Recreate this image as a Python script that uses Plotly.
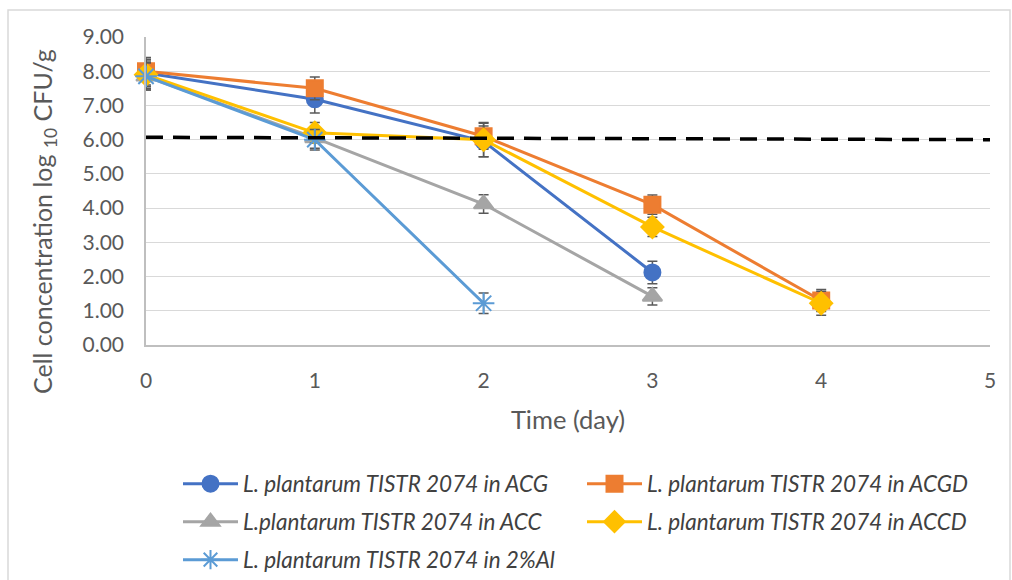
import plotly.graph_objects as go

days = [0, 1, 2, 3, 4]
acg = [7.95, 7.18, 5.95, 2.12]
acg_err = [0.40, 0.40, 0.45, 0.33]
acgd = [8.00, 7.50, 6.10, 4.10, 1.30]
acgd_err = [0.40, 0.33, 0.38, 0.28, 0.32]
acc = [7.85, 6.05, 4.12, 1.42]
acc_err = [0.40, 0.30, 0.27, 0.25]
accd = [7.90, 6.20, 6.00, 3.45, 1.22]
accd_err = [0.40, 0.30, 0.50, 0.28, 0.35]
al = [7.85, 6.00, 1.22]
al_err = [0.40, 0.30, 0.30]
threshold_x = [0, 5]
threshold_y = [6.07, 6.00]

names = [
    "L. plantarum TISTR 2074 in ACG",
    "L. plantarum TISTR 2074 in ACGD",
    "L.plantarum TISTR 2074 in ACC",
    "L. plantarum TISTR 2074 in ACCD",
    "L. plantarum TISTR 2074 in 2%Al",
]
colors = ["#4472C4", "#ED7D31", "#A5A5A5", "#FFC000", "#5B9BD5"]
symbols = ["circle", "square", "triangle-up", "diamond", "asterisk-open"]
sizes = [16, 16, 17, 17, 18]
legends = ["legend", "legend2", "legend3", "legend4", "legend5"]
series = [(acg, acg_err), (acgd, acgd_err), (acc, acc_err), (accd, accd_err), (al, al_err)]

fig = go.Figure()
for (vals, errs), name, c, s, sz, lg in zip(series, names, colors, symbols, sizes, legends):
    fig.add_trace(go.Scatter(
        x=days[:len(vals)], y=vals, name=name, mode="lines+markers",
        line=dict(color=c, width=3),
        marker=dict(color=c, symbol=s, size=sz, line=dict(color=c, width=2)),
        error_y=dict(type="data", array=errs, visible=True, color="#595959", thickness=1.5, width=5),
        cliponaxis=False, legend=lg,
    ))

fig.add_trace(go.Scatter(
    x=threshold_x, y=threshold_y, mode="lines", showlegend=False,
    line=dict(color="black", width=3.5, dash="17px,10px"), cliponaxis=False,
))

fig.add_shape(type="rect", xref="paper", yref="paper", x0=-0.1635, x1=1.0237, y0=-1.2, y1=1.0877,
              line=dict(color="#d9d9d9", width=1.5), fillcolor="rgba(0,0,0,0)", layer="below")

W, H = 1012, 580
L, R, T, B = 146, 22, 37, 235
font = "Lato, 'Open Sans', sans-serif"

def leg(px, py):
    return dict(xref="container", yref="container", x=px / W, y=1 - py / H,
                xanchor="left", yanchor="middle", orientation="h",
                font=dict(size=22.5, color="#404040", style="italic"),
                bgcolor="rgba(0,0,0,0)", itemwidth=55, borderwidth=0)

fig.add_annotation(
    text="Cell concentration log <sub>10</sub> CFU/g", textangle=-90,
    xref="paper", yref="paper",
    x=(44 - L) / (W - L - R), y=((H - B) - 222) / (H - B - T),
    xanchor="center", yanchor="middle", showarrow=False,
    font=dict(size=25, color="#595959", family=font),
)

fig.update_layout(
    width=W, height=H,
    margin=dict(l=L, r=R, t=T, b=B),
    paper_bgcolor="white", plot_bgcolor="white",
    font=dict(family=font, color="#595959", size=21),
    xaxis=dict(range=[0, 5], tickvals=[0, 1, 2, 3, 4, 5], showgrid=False, zeroline=False,
               showline=True, linecolor="#bfbfbf", linewidth=1.5,
               title=dict(text="Time (day)", font=dict(size=25.5, color="#595959"), standoff=20),
               tickfont=dict(size=21), ticks="", ticklabelstandoff=16),
    yaxis=dict(range=[0, 9], tickvals=[0, 1, 2, 3, 4, 5, 6, 7, 8, 9], tickformat=".2f",
               showgrid=True, gridcolor="#d9d9d9", gridwidth=1, zeroline=False,
               showline=True, linecolor="#bfbfbf", linewidth=1.5, mirror=False,
               tickfont=dict(size=21), ticks="", ticklabelstandoff=16),
    legend=leg(178, 484),
    legend2=leg(582, 484),
    legend3=leg(178, 522),
    legend4=leg(582, 522),
    legend5=leg(178, 560),
)

fig.write_html("out.html")
